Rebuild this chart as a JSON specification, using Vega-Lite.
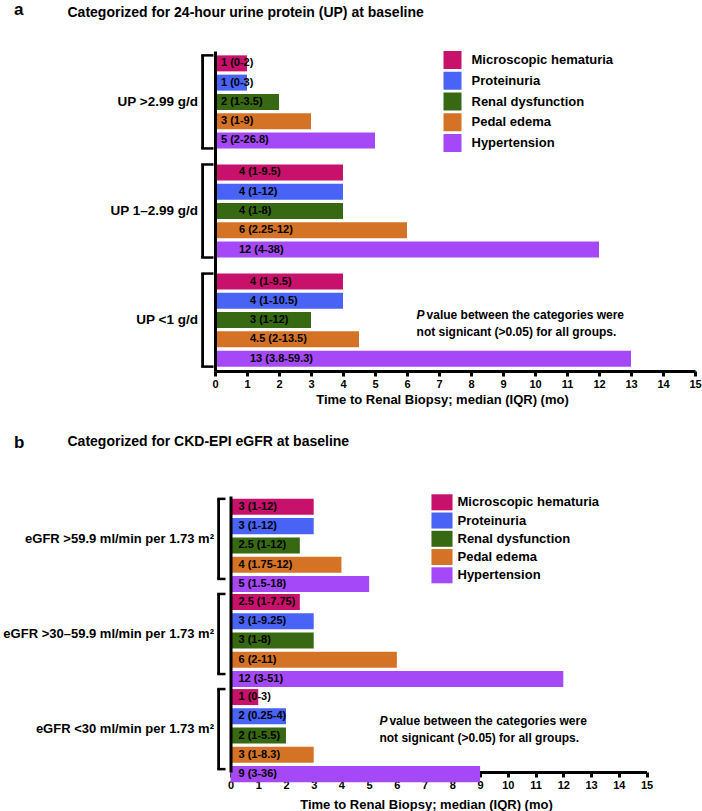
{
  "$schema": "https://vega.github.io/schema/vega-lite/v6.json",
  "padding": {"left": 2, "top": 0, "right": 5, "bottom": 5},
  "config": {"view": {"stroke": null}, "font": "Liberation Sans",
    "axisX": {"labelOverlap": false, "labelFlush": false, "grid": false, "domainWidth": 3, "domainColor": "black", "tickColor": "black", "tickWidth": 3, "tickSize": 5, "labelFontSize": 11, "labelFontWeight": "bold", "labelColor": "black", "labelPadding": 2, "titleFontSize": 13, "titleFontWeight": "bold", "titleColor": "black"},
    "axisY": {"ticks": false, "tickSize": 0, "domainWidth": 3, "domainColor": "black", "labelFontWeight": "bold", "labelColor": "black", "labelLimit": 400, "titleAngle": 0, "titleAlign": "left", "titleBaseline": "alphabetic", "titleFontSize": 17, "titleFontWeight": "bold", "titleColor": "black"}},
  "spacing": 27,
  "resolve": {"scale": {"x": "independent", "y": "independent", "color": "independent"}, "legend": {"color": "independent"}},
  "vconcat": [
    {
      "width": 480,
      "height": 320,
      "data": {"values": [
        {"group": "UP >2.99 g/d", "symptom": "Microscopic hematuria", "months": 1, "label": "1 (0-2)"},
        {"group": "UP >2.99 g/d", "symptom": "Proteinuria", "months": 1, "label": "1 (0-3)"},
        {"group": "UP >2.99 g/d", "symptom": "Renal dysfunction", "months": 2, "label": "2 (1-3.5)"},
        {"group": "UP >2.99 g/d", "symptom": "Pedal edema", "months": 3, "label": "3 (1-9)"},
        {"group": "UP >2.99 g/d", "symptom": "Hypertension", "months": 5, "label": "5 (2-26.8)"},
        {"group": "UP 1–2.99 g/d", "symptom": "Microscopic hematuria", "months": 4, "label": "4 (1-9.5)"},
        {"group": "UP 1–2.99 g/d", "symptom": "Proteinuria", "months": 4, "label": "4 (1-12)"},
        {"group": "UP 1–2.99 g/d", "symptom": "Renal dysfunction", "months": 4, "label": "4 (1-8)"},
        {"group": "UP 1–2.99 g/d", "symptom": "Pedal edema", "months": 6, "label": "6 (2.25-12)"},
        {"group": "UP 1–2.99 g/d", "symptom": "Hypertension", "months": 12, "label": "12 (4-38)"},
        {"group": "UP <1 g/d", "symptom": "Microscopic hematuria", "months": 4, "label": "4 (1-9.5)"},
        {"group": "UP <1 g/d", "symptom": "Proteinuria", "months": 4, "label": "4 (1-10.5)"},
        {"group": "UP <1 g/d", "symptom": "Renal dysfunction", "months": 3, "label": "3 (1-12)"},
        {"group": "UP <1 g/d", "symptom": "Pedal edema", "months": 4.5, "label": "4.5 (2-13.5)"},
        {"group": "UP <1 g/d", "symptom": "Hypertension", "months": 13, "label": "13 (3.8-59.3)"}
      ]},
      "title": {
        "text": "Categorized for 24-hour urine protein (UP) at baseline",
        "anchor": "start", "frame": "group", "dx": -147.5, "offset": -20,
        "fontSize": 14, "fontWeight": "bold", "color": "black"
      },
      "encoding": {
        "y": {"field": "group", "type": "nominal", "sort": ["UP >2.99 g/d", "UP 1–2.99 g/d", "UP <1 g/d"],
          "scale": {"domain": ["UP >2.99 g/d", "UP 1–2.99 g/d", "UP <1 g/d"], "paddingInner": 0.147, "paddingOuter": 0.04},
          "axis": {"title": "a", "titleX": -201.5, "titleY": -37, "labelPadding": 17.5, "labelFontSize": 13.5}}
      },
      "layer": [
        {
          "transform": [{"filter": "datum.symptom === 'Microscopic hematuria'"}],
          "mark": {"type": "rect", "color": "black", "xOffset": -13.8, "x2Offset": -11},
          "encoding": {"x": {"datum": 0, "type": "quantitative", "axis": {"title": "Time to Renal Biopsy; median (IQR) (mo)", "values": [0,1,2,3,4,5,6,7,8,9,10,11,12,13,14,15], "labelOverlap": false, "titlePadding": 4, "titleX": 227}}, "x2": {"datum": 0}}
        },
        {
          "transform": [{"filter": "datum.symptom === 'Microscopic hematuria'"}],
          "mark": {"type": "rule", "color": "black", "strokeWidth": 2.5, "xOffset": -13.8, "x2Offset": -1.5},
          "encoding": {
            "x": {"datum": 0, "type": "quantitative", "axis": {"title": "Time to Renal Biopsy; median (IQR) (mo)", "values": [0,1,2,3,4,5,6,7,8,9,10,11,12,13,14,15], "labelOverlap": false, "titlePadding": 4, "titleX": 227}}, "x2": {"datum": 0},
            "y": {"field": "group", "type": "nominal", "bandPosition": 0, "sort": ["UP >2.99 g/d", "UP 1–2.99 g/d", "UP <1 g/d"],
              "axis": {"title": "a", "titleX": -201.5, "titleY": -37, "labelPadding": 17.5, "labelFontSize": 13.5}}
          }
        },
        {
          "transform": [{"filter": "datum.symptom === 'Microscopic hematuria'"}],
          "mark": {"type": "rule", "color": "black", "strokeWidth": 2.5, "xOffset": -13.8, "x2Offset": -1.5},
          "encoding": {
            "x": {"datum": 0, "type": "quantitative", "axis": {"title": "Time to Renal Biopsy; median (IQR) (mo)", "values": [0,1,2,3,4,5,6,7,8,9,10,11,12,13,14,15], "labelOverlap": false, "titlePadding": 4, "titleX": 227}}, "x2": {"datum": 0},
            "y": {"field": "group", "type": "nominal", "bandPosition": 1, "sort": ["UP >2.99 g/d", "UP 1–2.99 g/d", "UP <1 g/d"],
              "axis": {"title": "a", "titleX": -201.5, "titleY": -37, "labelPadding": 17.5, "labelFontSize": 13.5}}
          }
        },
        {
          "mark": {"type": "bar"},
          "encoding": {
            "x": {"field": "months", "type": "quantitative", "scale": {"domain": [0, 15], "nice": false},
              "axis": {"title": "Time to Renal Biopsy; median (IQR) (mo)", "values": [0,1,2,3,4,5,6,7,8,9,10,11,12,13,14,15], "labelOverlap": false, "titlePadding": 4, "titleX": 227}},
            "yOffset": {"field": "symptom", "type": "nominal", "sort": ["Microscopic hematuria", "Proteinuria", "Renal dysfunction", "Pedal edema", "Hypertension"], "scale": {"paddingInner": 0.169, "paddingOuter": 0}},
            "color": {"field": "symptom", "type": "nominal",
              "scale": {"domain": ["Microscopic hematuria", "Proteinuria", "Renal dysfunction", "Pedal edema", "Hypertension"], "range": ["#C8116A", "#4863F5", "#376912", "#D47326", "#A548F8"]},
              "legend": {"title": null, "orient": "none", "legendX": 228.5, "legendY": 0, "padding": 0, "symbolType": "square", "symbolSize": 324, "symbolStrokeWidth": 0, "symbolOpacity": 1, "rowPadding": 2.75, "labelOffset": 10, "labelFontSize": 13, "labelFontWeight": "bold", "labelColor": "black", "labelLimit": 300}}
          }
        },
        {
          "transform": [{"filter": "datum.group === 'UP >2.99 g/d'"}],
          "mark": {"type": "text", "align": "left", "baseline": "middle", "dx": 6, "fontSize": 11, "fontWeight": "bold", "color": "black"},
          "encoding": {
            "x": {"datum": 0, "type": "quantitative", "axis": {"title": "Time to Renal Biopsy; median (IQR) (mo)", "values": [0,1,2,3,4,5,6,7,8,9,10,11,12,13,14,15], "labelOverlap": false, "titlePadding": 4, "titleX": 227}},
            "yOffset": {"field": "symptom", "type": "nominal", "sort": ["Microscopic hematuria", "Proteinuria", "Renal dysfunction", "Pedal edema", "Hypertension"]},
            "text": {"field": "label"}
          }
        },
        {
          "transform": [{"filter": "datum.group === 'UP 1–2.99 g/d'"}],
          "mark": {"type": "text", "align": "left", "baseline": "middle", "dx": 24, "fontSize": 11, "fontWeight": "bold", "color": "black"},
          "encoding": {
            "x": {"datum": 0, "type": "quantitative", "axis": {"title": "Time to Renal Biopsy; median (IQR) (mo)", "values": [0,1,2,3,4,5,6,7,8,9,10,11,12,13,14,15], "labelOverlap": false, "titlePadding": 4, "titleX": 227}},
            "yOffset": {"field": "symptom", "type": "nominal", "sort": ["Microscopic hematuria", "Proteinuria", "Renal dysfunction", "Pedal edema", "Hypertension"]},
            "text": {"field": "label"}
          }
        },
        {
          "transform": [{"filter": "datum.group === 'UP <1 g/d'"}],
          "mark": {"type": "text", "align": "left", "baseline": "middle", "dx": 35, "fontSize": 11, "fontWeight": "bold", "color": "black"},
          "encoding": {
            "x": {"datum": 0, "type": "quantitative", "axis": {"title": "Time to Renal Biopsy; median (IQR) (mo)", "values": [0,1,2,3,4,5,6,7,8,9,10,11,12,13,14,15], "labelOverlap": false, "titlePadding": 4, "titleX": 227}},
            "yOffset": {"field": "symptom", "type": "nominal", "sort": ["Microscopic hematuria", "Proteinuria", "Renal dysfunction", "Pedal edema", "Hypertension"]},
            "text": {"field": "label"}
          }
        },
        {
          "transform": [{"filter": "datum.group === 'UP <1 g/d' && datum.symptom === 'Renal dysfunction'"}],
          "mark": {"type": "text", "text": "P", "align": "left", "baseline": "middle", "dy": -5.5, "fontSize": 12, "fontWeight": "bold", "fontStyle": "italic", "color": "black"},
          "encoding": {"x": {"datum": 6.3, "type": "quantitative", "axis": {"title": "Time to Renal Biopsy; median (IQR) (mo)", "values": [0,1,2,3,4,5,6,7,8,9,10,11,12,13,14,15], "labelOverlap": false, "titlePadding": 4, "titleX": 227}}}
        },
        {
          "transform": [{"filter": "datum.group === 'UP <1 g/d' && datum.symptom === 'Renal dysfunction'"}],
          "mark": {"type": "text", "text": "value between the categories were", "align": "left", "baseline": "middle", "dx": 10, "dy": -5.5, "fontSize": 12, "fontWeight": "bold", "color": "black"},
          "encoding": {"x": {"datum": 6.3, "type": "quantitative", "axis": {"title": "Time to Renal Biopsy; median (IQR) (mo)", "values": [0,1,2,3,4,5,6,7,8,9,10,11,12,13,14,15], "labelOverlap": false, "titlePadding": 4, "titleX": 227}}}
        },
        {
          "transform": [{"filter": "datum.group === 'UP <1 g/d' && datum.symptom === 'Renal dysfunction'"}],
          "mark": {"type": "text", "text": "not signicant (>0.05) for all groups.", "align": "left", "baseline": "middle", "dy": 11.5, "fontSize": 12, "fontWeight": "bold", "color": "black"},
          "encoding": {"x": {"datum": 6.3, "type": "quantitative", "axis": {"title": "Time to Renal Biopsy; median (IQR) (mo)", "values": [0,1,2,3,4,5,6,7,8,9,10,11,12,13,14,15], "labelOverlap": false, "titlePadding": 4, "titleX": 227}}}
        }
      ]
    },
    {
      "width": 432,
      "height": 276,
      "data": {"values": [
        {"group": "eGFR >59.9 ml/min per 1.73 m²", "symptom": "Microscopic hematuria", "months": 3, "label": "3 (1-12)"},
        {"group": "eGFR >59.9 ml/min per 1.73 m²", "symptom": "Proteinuria", "months": 3, "label": "3 (1-12)"},
        {"group": "eGFR >59.9 ml/min per 1.73 m²", "symptom": "Renal dysfunction", "months": 2.5, "label": "2.5 (1-12)"},
        {"group": "eGFR >59.9 ml/min per 1.73 m²", "symptom": "Pedal edema", "months": 4, "label": "4 (1.75-12)"},
        {"group": "eGFR >59.9 ml/min per 1.73 m²", "symptom": "Hypertension", "months": 5, "label": "5 (1.5-18)"},
        {"group": "eGFR >30–59.9 ml/min per 1.73 m²", "symptom": "Microscopic hematuria", "months": 2.5, "label": "2.5 (1-7.75)"},
        {"group": "eGFR >30–59.9 ml/min per 1.73 m²", "symptom": "Proteinuria", "months": 3, "label": "3 (1-9.25)"},
        {"group": "eGFR >30–59.9 ml/min per 1.73 m²", "symptom": "Renal dysfunction", "months": 3, "label": "3 (1-8)"},
        {"group": "eGFR >30–59.9 ml/min per 1.73 m²", "symptom": "Pedal edema", "months": 6, "label": "6 (2-11)"},
        {"group": "eGFR >30–59.9 ml/min per 1.73 m²", "symptom": "Hypertension", "months": 12, "label": "12 (3-51)"},
        {"group": "eGFR <30 ml/min per 1.73 m²", "symptom": "Microscopic hematuria", "months": 1, "label": "1 (0-3)"},
        {"group": "eGFR <30 ml/min per 1.73 m²", "symptom": "Proteinuria", "months": 2, "label": "2 (0.25-4)"},
        {"group": "eGFR <30 ml/min per 1.73 m²", "symptom": "Renal dysfunction", "months": 2, "label": "2 (1-5.5)"},
        {"group": "eGFR <30 ml/min per 1.73 m²", "symptom": "Pedal edema", "months": 3, "label": "3 (1-8.3)"},
        {"group": "eGFR <30 ml/min per 1.73 m²", "symptom": "Hypertension", "months": 9, "label": "9 (3-36)"}
      ]},
      "title": {
        "text": "Categorized for CKD-EPI eGFR at baseline",
        "anchor": "start", "frame": "group", "dx": -147.5, "offset": -16,
        "fontSize": 14, "fontWeight": "bold", "color": "black"
      },
      "encoding": {
        "y": {"field": "group", "type": "nominal", "sort": ["eGFR >59.9 ml/min per 1.73 m²", "eGFR >30–59.9 ml/min per 1.73 m²", "eGFR <30 ml/min per 1.73 m²"],
          "scale": {"domain": ["eGFR >59.9 ml/min per 1.73 m²", "eGFR >30–59.9 ml/min per 1.73 m²", "eGFR <30 ml/min per 1.73 m²"], "paddingInner": 0.158, "paddingOuter": 0.03},
          "axis": {"title": "b", "titleX": -217, "titleY": -49, "offset": -15.5, "labelPadding": 17, "labelFontSize": 13}}
      },
      "layer": [
        {
          "transform": [{"filter": "datum.symptom === 'Microscopic hematuria'"}],
          "mark": {"type": "rect", "color": "black", "xOffset": -13.3, "x2Offset": -10.5},
          "encoding": {"x": {"datum": 0, "type": "quantitative", "axis": {"title": "Time to Renal Biopsy; median (IQR) (mo)", "values": [0,1,2,3,4,5,6,7,8,9,10,11,12,13,14,15], "labelOverlap": false, "titlePadding": 8, "titleX": 211}}, "x2": {"datum": 0}}
        },
        {
          "transform": [{"filter": "datum.symptom === 'Microscopic hematuria'"}],
          "mark": {"type": "rule", "color": "black", "strokeWidth": 2.5, "xOffset": -13.3, "x2Offset": -5},
          "encoding": {
            "x": {"datum": 0, "type": "quantitative", "axis": {"title": "Time to Renal Biopsy; median (IQR) (mo)", "values": [0,1,2,3,4,5,6,7,8,9,10,11,12,13,14,15], "labelOverlap": false, "titlePadding": 8, "titleX": 211}}, "x2": {"datum": 0},
            "y": {"field": "group", "type": "nominal", "bandPosition": 0, "sort": ["eGFR >59.9 ml/min per 1.73 m²", "eGFR >30–59.9 ml/min per 1.73 m²", "eGFR <30 ml/min per 1.73 m²"],
              "axis": {"title": "b", "titleX": -217, "titleY": -49, "offset": -15.5, "labelPadding": 17, "labelFontSize": 13}}
          }
        },
        {
          "transform": [{"filter": "datum.symptom === 'Microscopic hematuria'"}],
          "mark": {"type": "rule", "color": "black", "strokeWidth": 2.5, "xOffset": -13.3, "x2Offset": -5},
          "encoding": {
            "x": {"datum": 0, "type": "quantitative", "axis": {"title": "Time to Renal Biopsy; median (IQR) (mo)", "values": [0,1,2,3,4,5,6,7,8,9,10,11,12,13,14,15], "labelOverlap": false, "titlePadding": 8, "titleX": 211}}, "x2": {"datum": 0},
            "y": {"field": "group", "type": "nominal", "bandPosition": 1, "sort": ["eGFR >59.9 ml/min per 1.73 m²", "eGFR >30–59.9 ml/min per 1.73 m²", "eGFR <30 ml/min per 1.73 m²"],
              "axis": {"title": "b", "titleX": -217, "titleY": -49, "offset": -15.5, "labelPadding": 17, "labelFontSize": 13}}
          }
        },
        {
          "mark": {"type": "bar"},
          "encoding": {
            "x": {"field": "months", "type": "quantitative", "scale": {"domain": [0, 15], "nice": false, "range": [15.5, 431.5]},
              "axis": {"title": "Time to Renal Biopsy; median (IQR) (mo)", "values": [0,1,2,3,4,5,6,7,8,9,10,11,12,13,14,15], "labelOverlap": false, "titlePadding": 8, "titleX": 211}},
            "yOffset": {"field": "symptom", "type": "nominal", "sort": ["Microscopic hematuria", "Proteinuria", "Renal dysfunction", "Pedal edema", "Hypertension"], "scale": {"paddingInner": 0.08, "paddingOuter": 0}},
            "color": {"field": "symptom", "type": "nominal",
              "scale": {"domain": ["Microscopic hematuria", "Proteinuria", "Renal dysfunction", "Pedal edema", "Hypertension"], "range": ["#C8116A", "#4863F5", "#376912", "#D47326", "#A548F8"]},
              "legend": {"title": null, "orient": "none", "legendX": 218, "legendY": -2.7, "padding": 0, "symbolType": "M-1.17,-0.89H1.17V0.89H-1.17Z", "symbolSize": 324, "symbolStrokeWidth": 0, "symbolOpacity": 1, "rowPadding": 0.25, "labelOffset": 6.5, "labelFontSize": 13, "labelFontWeight": "bold", "labelColor": "black", "labelLimit": 300}}
          }
        },
        {
          "mark": {"type": "text", "align": "left", "baseline": "middle", "dx": 8, "fontSize": 11, "fontWeight": "bold", "color": "black"},
          "encoding": {
            "x": {"datum": 0, "type": "quantitative", "axis": {"title": "Time to Renal Biopsy; median (IQR) (mo)", "values": [0,1,2,3,4,5,6,7,8,9,10,11,12,13,14,15], "labelOverlap": false, "titlePadding": 8, "titleX": 211}},
            "yOffset": {"field": "symptom", "type": "nominal", "sort": ["Microscopic hematuria", "Proteinuria", "Renal dysfunction", "Pedal edema", "Hypertension"]},
            "text": {"field": "label"}
          }
        },
        {
          "transform": [{"filter": "datum.group === 'eGFR <30 ml/min per 1.73 m²' && datum.symptom === 'Renal dysfunction'"}],
          "mark": {"type": "text", "text": "P", "align": "left", "baseline": "middle", "dy": -8.5, "fontSize": 12, "fontWeight": "bold", "fontStyle": "italic", "color": "black"},
          "encoding": {"x": {"datum": 5.37, "type": "quantitative", "axis": {"title": "Time to Renal Biopsy; median (IQR) (mo)", "values": [0,1,2,3,4,5,6,7,8,9,10,11,12,13,14,15], "labelOverlap": false, "titlePadding": 8, "titleX": 211}}}
        },
        {
          "transform": [{"filter": "datum.group === 'eGFR <30 ml/min per 1.73 m²' && datum.symptom === 'Renal dysfunction'"}],
          "mark": {"type": "text", "text": "value between the categories were", "align": "left", "baseline": "middle", "dx": 10, "dy": -8.5, "fontSize": 12, "fontWeight": "bold", "color": "black"},
          "encoding": {"x": {"datum": 5.37, "type": "quantitative", "axis": {"title": "Time to Renal Biopsy; median (IQR) (mo)", "values": [0,1,2,3,4,5,6,7,8,9,10,11,12,13,14,15], "labelOverlap": false, "titlePadding": 8, "titleX": 211}}}
        },
        {
          "transform": [{"filter": "datum.group === 'eGFR <30 ml/min per 1.73 m²' && datum.symptom === 'Renal dysfunction'"}],
          "mark": {"type": "text", "text": "not signicant (>0.05) for all groups.", "align": "left", "baseline": "middle", "dy": 8.5, "fontSize": 12, "fontWeight": "bold", "color": "black"},
          "encoding": {"x": {"datum": 5.37, "type": "quantitative", "axis": {"title": "Time to Renal Biopsy; median (IQR) (mo)", "values": [0,1,2,3,4,5,6,7,8,9,10,11,12,13,14,15], "labelOverlap": false, "titlePadding": 8, "titleX": 211}}}
        }
      ]
    }
  ]
}
